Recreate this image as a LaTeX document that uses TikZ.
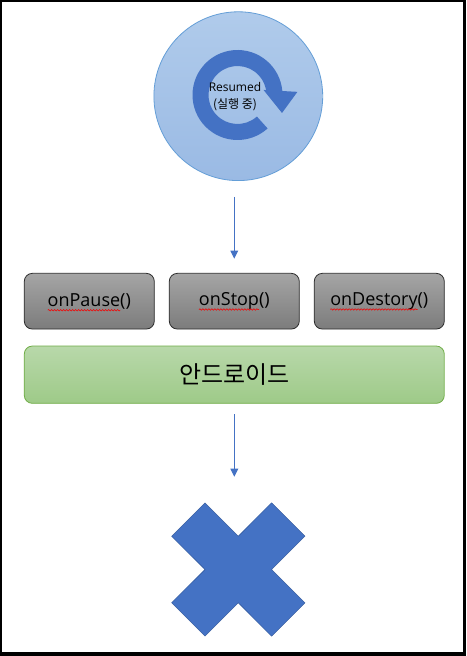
\documentclass[tikz,border=0pt]{standalone}
\usepackage{fontspec}
\setmainfont{Open Sans}
\newfontfamily\krfont{Noto Sans CJK KR}
\usetikzlibrary{arrows.meta}
\usetikzlibrary{decorations.pathmorphing}

\definecolor{accentblue}{RGB}{68,114,196}
\definecolor{crossedge}{RGB}{47,85,151}
\definecolor{circtop}{RGB}{176,203,235}
\definecolor{circbot}{RGB}{154,186,228}
\definecolor{circedge}{RGB}{100,158,215}
\definecolor{graytop}{RGB}{165,165,165}
\definecolor{graybot}{RGB}{124,124,124}
\definecolor{boxedge}{RGB}{45,45,45}
\definecolor{greentop}{RGB}{184,216,170}
\definecolor{greenbot}{RGB}{158,202,136}
\definecolor{greenedge}{RGB}{112,173,71}
\definecolor{spellred}{RGB}{230,20,20}

\newcommand\boxfont{\fontsize{18}{21}\selectfont}
% widths of the marked words, measured outside the picture
\newlength\pausewd
\newlength\stopwd
\newlength\destorywd
\newlength\parenwd
\AtBeginDocument{%
    \settowidth{\pausewd}{\boxfont onPause}%
    \settowidth{\stopwd}{\boxfont onStop}%
    \settowidth{\destorywd}{\boxfont onDestory}%
    \settowidth{\parenwd}{\boxfont ()}}

\begin{document}
\begin{tikzpicture}[x=1pt,y=1pt,
        opbox/.style={draw=boxedge,line width=0.8pt,rounded corners=8pt,top color=graytop,bottom color=graybot,
            minimum width=130pt,minimum height=55.7pt,inner sep=0pt,font=\boxfont},
        flow/.style={draw=accentblue,line width=1pt,-{Triangle[width=7.7pt,length=8pt]}},
        squiggle/.style={draw=spellred,line width=0.7pt,decorate,decoration={snake,amplitude=0.7pt,segment length=3pt}}]

        % frame
        \fill[black] (0,0) rectangle (466,656);
        \fill[white] (2,4) rectangle (463,654);
        \useasboundingbox (0,0) rectangle (466,656);

        % running state
        \node[circle,draw=circedge,line width=0.8pt,top color=circtop,bottom color=circbot,
            minimum size=168.8pt,inner sep=0pt] (res) at (238.3,559.8) {};
        \begin{scope}[shift={(237.5,561)}]
            \fill[accentblue] (5:45pt) arc[start angle=5,end angle=312,radius=45pt]
                -- (312:29pt) arc[start angle=312,end angle=5,radius=29pt] -- cycle;
            \fill[accentblue] (11:26.5pt) -- (3:60pt) -- (-22:48pt) -- cycle;
        \end{scope}
        \node[align=center,font=\fontsize{12}{16.7}\selectfont] (restext) at (235,559.5) {Resumed\\{\krfont (실행 중)}};

        % callbacks
        \foreach \name/\x/\wordwd in {onPause/89.3/\pausewd,onStop/234.3/\stopwd,onDestory/379.3/\destorywd} {
            \node[opbox] (\name) at (\x,354.8) {\name()};
            \draw[squiggle] ([xshift=-0.5*\wordwd-0.5*\parenwd,yshift=-4pt]\name.base) -- ++(\wordwd,0);
        }

        \node[draw=greenedge,line width=0.8pt,rounded corners=8pt,top color=greentop,bottom color=greenbot,
            minimum width=420pt,minimum height=57.3pt,font=\krfont\fontsize{24}{28}\selectfont] (android) at (234.3,281.3) {안드로이드};

        % destroyed
        \coordinate (gone) at (234.3,179.3);
        \begin{scope}[shift={(238.3,86.5)}]
            \filldraw[fill=accentblue,draw=crossedge,line width=0.4pt]
                (-33.3,66.7) -- (0,33.3) -- (33.3,66.7) -- (66.7,33.3) -- (33.3,0) -- (66.7,-33.3)
                -- (33.3,-66.7) -- (0,-33.3) -- (-33.3,-66.7) -- (-66.7,-33.3) -- (-33.3,0) -- (-66.7,33.3) -- cycle;
        \end{scope}

        \draw[flow,shorten <=16pt,shorten >=14.3pt] (res.south -| onStop) -- (onStop.north);
        \draw[flow,shorten <=10.7pt] (android) -- (gone);

    \end{tikzpicture}
\end{document}
